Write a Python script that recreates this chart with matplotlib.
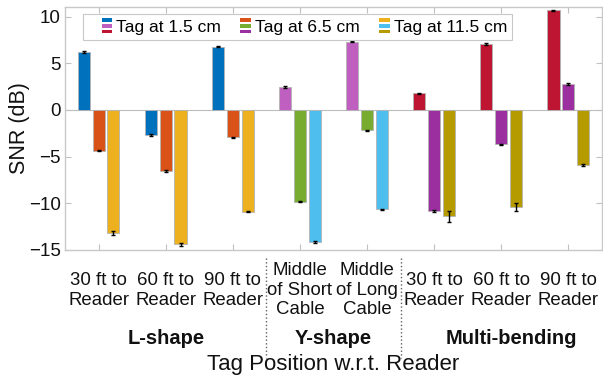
import numpy as np
import matplotlib
matplotlib.use("Agg")
import matplotlib.pyplot as plt
from matplotlib.patches import Rectangle
from matplotlib.legend_handler import HandlerBase
from matplotlib.transforms import blended_transform_factory

plt.rcParams["font.family"] = ["Liberation Sans", "DejaVu Sans"]

positions = ["30 ft to\nReader", "60 ft to\nReader", "90 ft to\nReader",
             "Middle\nof Short\nCable", "Middle\nof Long\nCable",
             "30 ft to\nReader", "60 ft to\nReader", "90 ft to\nReader"]
groups = ["L-shape", "Y-shape", "Multi-bending"]
group_sizes = [3, 2, 3]
series = ["Tag at 1.5 cm", "Tag at 6.5 cm", "Tag at 11.5 cm"]

snr_near = [6.2, -2.7, 6.75, 2.45, 7.3, 1.8, 7.05, 10.65]
snr_mid = [-4.35, -6.55, -2.95, -9.85, -2.2, -10.85, -3.7, 2.75]
snr_far = [-13.2, -14.4, -10.9, -14.15, -10.65, -11.4, -10.4, -5.9]
err_near = [0.08, 0.08, 0.06, 0.06, 0.06, 0.06, 0.06, 0.06]
err_mid = [0.06, 0.06, 0.06, 0.06, 0.06, 0.08, 0.08, 0.08]
err_far = [0.18, 0.18, 0.08, 0.06, 0.06, 0.58, 0.44, 0.06]

# colours per shape group, one per series
group_colors = [
    ["#0072BD", "#D95319", "#EDB120"],
    ["#BF5FBF", "#77AC30", "#4DBEEE"],
    ["#BE1632", "#9B2FA0", "#B59A00"],
]


class StackHandler(HandlerBase):
    # three small stacked bars, drawn at the right of the handle box
    def __init__(self, colors):
        super().__init__()
        self.colors = colors

    def create_artists(self, legend, orig_handle, xdescent, ydescent,
                       width, height, fontsize, trans):
        arts = []
        bw = fontsize * 0.6
        bh = fontsize * 0.22
        step = fontsize * 0.33
        yc = -ydescent + height / 2
        x0 = -xdescent + width - bw
        for i, c in enumerate(self.colors):
            y = yc + step * (1 - i) - bh / 2
            arts.append(Rectangle((x0, y), bw, bh, facecolor=c,
                                  edgecolor="none", transform=trans))
        return arts


fig = plt.figure(figsize=(6.03, 3.77), dpi=100)
ax = fig.add_axes([0.108, 0.337, 0.890, 0.644])

x = np.arange(1, len(positions) + 1)
vals = [snr_near, snr_mid, snr_far]
errs = [err_near, err_mid, err_far]
offsets = [-0.22, 0.0, 0.22]

cat_group = []
for gi, n in enumerate(group_sizes):
    cat_group += [gi] * n

for s in range(3):
    cols = [group_colors[g][s] for g in cat_group]
    ax.bar(x + offsets[s], vals[s], width=0.18, color=cols,
           edgecolor="#b4b4b4", linewidth=0.6, zorder=2)
    ax.errorbar(x + offsets[s], vals[s], yerr=errs[s], fmt="none",
                ecolor="black", elinewidth=1.0, capsize=1.5, capthick=1.0,
                zorder=3)

ax.axhline(0, color="#bdbdbd", linewidth=0.8, zorder=1)

ax.set_xlim(0.5, 8.5)
ax.set_ylim(-15, 11)
ax.set_yticks([-15, -10, -5, 0, 5, 10])
ax.set_xticks(x)
ax.set_xticklabels(positions, fontsize=13.4, linespacing=1.2)
for lab in ax.get_xticklabels():
    lab.set_va("center")
ax.tick_params(axis="x", pad=29, length=4, direction="in", top=True,
               colors="#c0c0c0", labelcolor="#111111")
ax.tick_params(axis="y", length=4, direction="in", right=True,
               colors="#c0c0c0", labelcolor="#111111", labelsize=13.5, pad=3)
for sp in ax.spines.values():
    sp.set_color("#c8c8c8")
    sp.set_linewidth(1.0)

ax.set_ylabel("SNR (dB)", fontsize=15.5, color="#111111")
ax.yaxis.set_label_coords(-0.066, 0.5)
ax.set_xlabel("Tag Position w.r.t. Reader", fontsize=16, color="#111111")
ax.xaxis.set_label_coords(0.5, -0.43)

tr = blended_transform_factory(ax.transData, ax.transAxes)
starts = np.cumsum([0] + group_sizes)
for gi, name in enumerate(groups):
    xc = (starts[gi] + 1 + starts[gi + 1]) / 2
    if name == "Multi-bending":
        xc += 0.15
    ax.text(xc, -0.365, name, transform=tr, ha="center", va="center",
            fontsize=14.5, fontweight="bold", color="#111111")
for b in starts[1:-1]:
    ax.plot([b + 0.5, b + 0.5], [-0.033, -0.445], transform=tr,
            linestyle=":", color="#606060", linewidth=1.0, clip_on=False)

handles = []
hmap = {}
for s in range(3):
    h = Rectangle((0, 0), 1, 1)
    handles.append(h)
    hmap[h] = StackHandler([group_colors[g][s] for g in range(3)])
leg = ax.legend(handles, series, handler_map=hmap, ncol=3, loc="upper left",
                bbox_to_anchor=(0.033, 0.97), fontsize=12.5, frameon=True,
                fancybox=False, edgecolor="#c8c8c8", framealpha=1,
                handlelength=1.38, handletextpad=0.23, columnspacing=0.35,
                borderpad=0.3, borderaxespad=0)
leg.get_frame().set_linewidth(0.8)

fig.savefig("out.png", dpi=100)
